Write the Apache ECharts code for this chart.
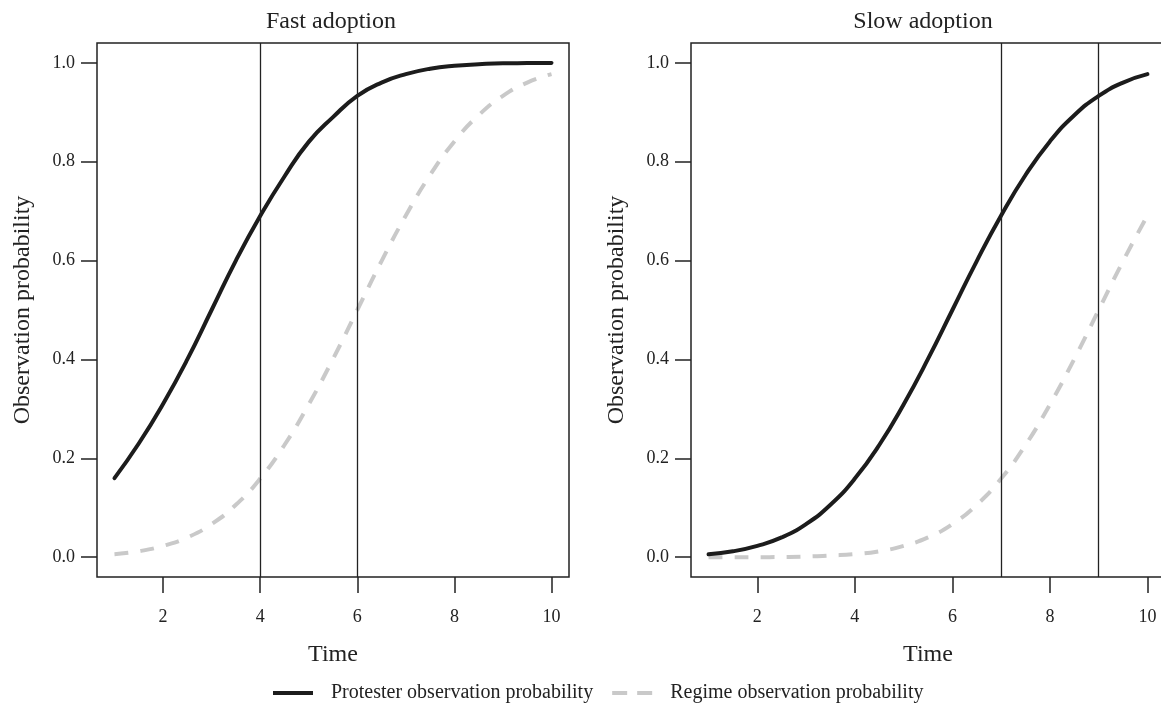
<!DOCTYPE html>
<html>
<head>
<meta charset="utf-8">
<script src="https://cdn.jsdelivr.net/npm/echarts@6/dist/echarts.min.js"></script>
<style>
html,body{margin:0;padding:0;background:#fff;}
#c{width:1161px;height:704px;}
</style>
</head>
<body>
<div id="c"></div>
<script>
// ---- data ----
const times = [1,1.5,2,2.5,3,3.5,4,4.5,5,5.5,6,6.5,7,7.5,8,8.5,9,9.5,10];
const fastProtester = [0.16,0.23,0.31,0.40,0.50,0.60,0.69,0.77,0.84,0.89,0.933,0.96,0.977,0.988,0.994,0.997,0.999,0.9994,0.9998];
const fastRegime    = [0.006,0.012,0.023,0.04,0.067,0.106,0.159,0.227,0.309,0.401,0.50,0.599,0.691,0.773,0.841,0.894,0.933,0.96,0.977];
const slowProtester = [0.006,0.012,0.023,0.04,0.067,0.106,0.159,0.227,0.309,0.401,0.50,0.599,0.691,0.773,0.841,0.894,0.933,0.96,0.977];
const slowRegime    = [0.0,0.0,0.0001,0.0004,0.0013,0.0035,0.0062,0.012,0.023,0.04,0.067,0.106,0.159,0.227,0.309,0.401,0.50,0.599,0.691];
const fastMarkers = [4,6];
const slowMarkers = [7,9];
const panelTitles = ['Fast adoption','Slow adoption'];
const xTicks = [2,4,6,8,10];
const yTicks = [0,0.2,0.4,0.6,0.8,1.0];
const seriesNames = ['Protester observation probability','Regime observation probability'];

const FONT = '"Liberation Serif","DejaVu Serif",serif';
const INK = '#222';
const BLACK = '#1c1c1c';
const GRAY = '#c9c9c9';

function pairs(xs, ys){ return xs.map((x,i)=>[x, ys[i]]); }

const grids = [
  {left:97, top:43, width:472, height:534},
  {left:691, top:43, width:474, height:534}
];
const titleCenters = [326, 918];

function xAxis(i){
  return {
    type:'value', gridIndex:i, min:0.64, max:10.36,
    name:'Time', nameLocation:'middle', nameGap:66,
    nameTextStyle:{fontFamily:FONT, fontSize:24, color:INK},
    axisLine:{show:false, onZero:false},
    splitLine:{show:false},
    axisTick:{show:true, inside:false, length:16, customValues:xTicks, lineStyle:{color:INK, width:1.5}},
    axisLabel:{show:true, margin:31, customValues:xTicks, fontFamily:FONT, fontSize:18, color:INK}
  };
}
function yAxis(i){
  return {
    type:'value', gridIndex:i, min:-0.04, max:1.04,
    name:'Observation probability', nameLocation:'middle', nameGap:62,
    nameTextStyle:{fontFamily:FONT, fontSize:24, color:INK},
    axisLine:{show:false, onZero:false},
    splitLine:{show:false},
    axisTick:{show:true, inside:false, length:16, customValues:yTicks, lineStyle:{color:INK, width:1.5}},
    axisLabel:{show:true, margin:22, customValues:yTicks, fontFamily:FONT, fontSize:18, color:INK,
      formatter:v=>Number(v).toFixed(1)}
  };
}
function markers(vals){
  return {
    silent:true, symbol:['none','none'], label:{show:false},
    lineStyle:{color:INK, width:1.3, type:'solid'},
    emphasis:{disabled:true},
    data: vals.map(v=>({xAxis:v}))
  };
}
function protester(i, ys, mk){
  const s = {
    name:seriesNames[0], type:'line', xAxisIndex:i, yAxisIndex:i,
    data:pairs(times, ys), smooth:0.5, showSymbol:false, symbol:'none',
    lineStyle:{color:BLACK, width:4, cap:'round'}, itemStyle:{color:BLACK},
    z:3, animation:false
  };
  if(mk) s.markLine = markers(mk);
  return s;
}
function regime(i, ys){
  return {
    name:seriesNames[1], type:'line', xAxisIndex:i, yAxisIndex:i,
    data:pairs(times, ys), smooth:0.5, showSymbol:false, symbol:'none',
    lineStyle:{color:GRAY, width:4, type:[14,12]}, itemStyle:{color:GRAY},
    z:2, animation:false
  };
}

const chart = echarts.init(document.getElementById('c'), null, {renderer:'canvas'});
chart.setOption({
  animation:false,
  backgroundColor:'#fff',
  title: grids.map((g,i)=>({
    text:panelTitles[i], left:titleCenters[i], top:5, textAlign:'center',
    textStyle:{fontFamily:FONT, fontSize:24, fontWeight:'normal', color:INK}
  })),
  grid: grids.map(g=>Object.assign({show:true, borderColor:INK, borderWidth:1.5, backgroundColor:'transparent', outerBoundsMode:'none', containLabel:false}, g)),
  xAxis:[xAxis(0), xAxis(1)],
  yAxis:[yAxis(0), yAxis(1)],
  legend:{
    top:678, left:268, itemWidth:40, itemHeight:4, itemGap:19,
    itemStyle:{borderWidth:0},
    data:[
      {name:seriesNames[0], icon:'rect'},
      {name:seriesNames[1], icon:'path://M0,0H15V4H0Z M25,0H40V4H25Z'}
    ],
    textStyle:{fontFamily:FONT, fontSize:20, color:INK, padding:[0,0,0,13]}
  },
  series:[
    protester(0, fastProtester, fastMarkers),
    regime(0, fastRegime),
    protester(1, slowProtester, slowMarkers),
    regime(1, slowRegime)
  ]
});
</script>
</body>
</html>
